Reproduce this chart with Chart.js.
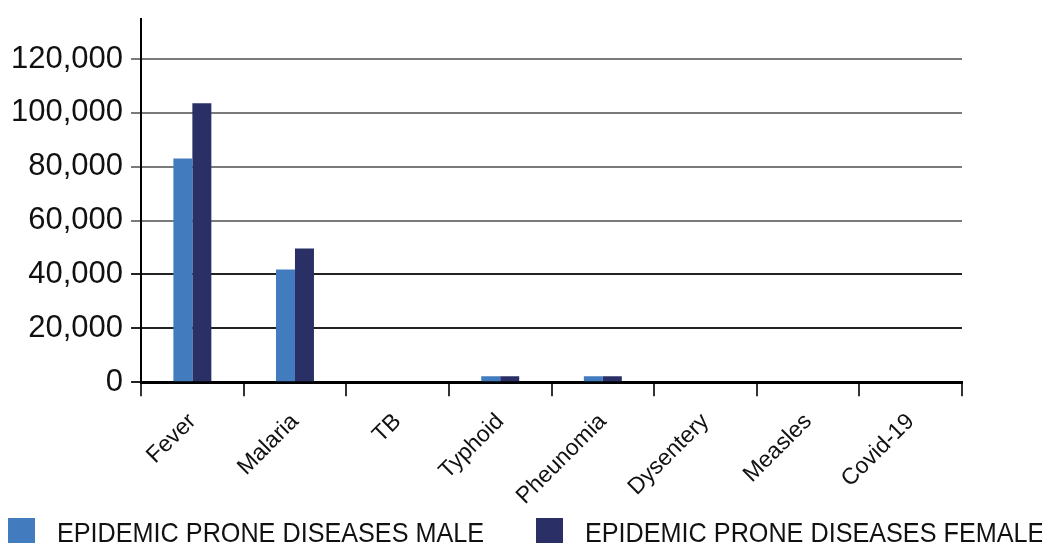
<!DOCTYPE html>
<html>
<head>
<meta charset="utf-8">
<script src="https://cdn.jsdelivr.net/npm/chart.js@4"></script>
<style>
    body { margin: 0; background: #fff; }
    #wrap { position: relative; width: 1042px; height: 543px; overflow: hidden; }
    #graficoBox { position: absolute; left: 0; top: -8px; width: 1042px; height: 530px; }
    .leg-box { position: absolute; top: 518px; width: 27px; height: 25px; }
    .leg-txt { position: absolute; top: 519px; font-family: 'Liberation Sans', Arial, sans-serif; font-size: 28px;
               line-height: 28px; color: #111; white-space: nowrap; transform: scaleX(0.9); transform-origin: left top; }
</style>
</head>
<body>
<div id="wrap">
    <div id="graficoBox"><canvas id="grafico"></canvas></div>
    <div id="legenda"></div>
</div>
<script>
const categorias = ['Fever', 'Malaria', 'TB', 'Typhoid', 'Pheunomia', 'Dysentery', 'Measles', 'Covid-19'];
const serieMale = [83100, 41800, 0, 2200, 2200, 0, 0, 0];
const serieFemale = [103600, 49600, 0, 2200, 2200, 0, 0, 0];
const nomesSeries = ['EPIDEMIC PRONE DISEASES MALE', 'EPIDEMIC PRONE DISEASES FEMALE'];
const yTicks = [0, 20000, 40000, 60000, 80000, 100000, 120000];

const corMale = '#427cbe';
const corFemale = '#2a3066';

document.addEventListener('DOMContentLoaded', () => {
    desenharGrafico();
    desenharLegenda();
});

function desenharGrafico() {
    const ctx = document.getElementById('grafico').getContext('2d');

    new Chart(ctx, {
        type: 'bar',
        data: {
            labels: categorias,
            datasets: [
                { label: nomesSeries[0], data: serieMale, backgroundColor: corMale, borderWidth: 0 },
                { label: nomesSeries[1], data: serieFemale, backgroundColor: corFemale, borderWidth: 0 }
            ]
        },
        options: {
            responsive: true,
            maintainAspectRatio: false,
            animation: false,
            layout: { padding: { left: 3, right: 80, top: 10, bottom: 0 } },
            datasets: { bar: { barPercentage: 1, categoryPercentage: 0.37 } },
            plugins: { legend: { display: false }, tooltip: { enabled: false } },
            scales: {
                x: {
                    offset: true,
                    border: { display: true, color: '#000', width: 3 },
                    grid: { display: true, drawOnChartArea: false, drawTicks: true, tickLength: 14, color: '#333', lineWidth: 2, offset: true },
                    ticks: {
                        color: '#111',
                        padding: 12,
                        minRotation: 45,
                        maxRotation: 45,
                        font: { family: 'Liberation Sans', size: 23 }
                    }
                },
                y: {
                    min: 0,
                    max: 135000,
                    border: { display: true, color: '#000', width: 2 },
                    afterBuildTicks: (scale) => {
                        scale.ticks = yTicks.map(v => ({ value: v }));
                    },
                    grid: {
                        drawTicks: true,
                        tickLength: 10,
                        lineWidth: 2,
                        color: (c) => (c.tick && c.tick.value >= 60000 ? '#7a7a7a' : '#222')
                    },
                    ticks: {
                        color: '#111',
                        padding: 8,
                        font: { family: 'Liberation Sans', size: 31 },
                        callback: (v) => v.toLocaleString('en-US')
                    }
                }
            }
        }
    });
}

function desenharLegenda() {
    const legenda = document.getElementById('legenda');
    const cores = [corMale, corFemale];
    const posBox = [8, 536];
    const posTxt = [57, 585];
    legenda.innerHTML = nomesSeries.map((nome, i) => `
        <div class="leg-box" style="left:${posBox[i]}px;background:${cores[i]}"></div>
        <div class="leg-txt" style="left:${posTxt[i]}px">${nome}</div>
    `).join('');
}
</script>
</body>
</html>
